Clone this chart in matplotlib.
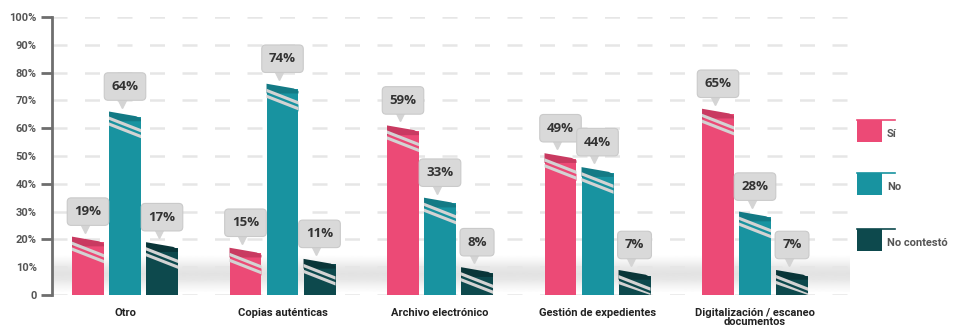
import numpy as np
import matplotlib
matplotlib.use("Agg")
import matplotlib.pyplot as plt
from matplotlib.patches import Polygon, Rectangle
from matplotlib.lines import Line2D
import matplotlib.transforms as mtransforms

plt.rcParams['font.family'] = ['Roboto', 'DejaVu Sans']

# Data
categories = ['Otro', 'Copias auténticas', 'Archivo electrónico',
              'Gestión de expedientes', 'Digitalización / escaneo\ndocumentos']
series = ['Sí', 'No', 'No contestó']
si = [19, 15, 59, 49, 65]
no = [64, 74, 33, 44, 28]
no_contesto = [17, 11, 8, 7, 7]
y_ticks = [0, 10, 20, 30, 40, 50, 60, 70, 80, 90, 100]

colors = ['#EC4A76', '#1893A0', '#0D494D']
caps = ['#C93A61', '#137A85', '#093538']
values = [si, no, no_contesto]

W, H = 954, 334
fig = plt.figure(figsize=(W / 100, H / 100), dpi=100)
ax = fig.add_axes([52 / W, (H - 295) / H, (850 - 52) / W, (295 - 17) / H])

x = np.arange(len(categories))
bw = 0.203
step = 0.235

# floor shading
prof = np.array([0.0, 0.35, 0.8, 1.0, 0.85, 0.4, 0.05])
floor = np.interp(np.linspace(0, 1, 80), np.linspace(0, 1, len(prof)), prof)
rgba = np.zeros((80, 1, 4))
rgba[..., :3] = 0.80
rgba[:, 0, 3] = floor * 0.55
ax.imshow(rgba, extent=[-0.47, 4.61, 1, 14], aspect='auto', zorder=0,
          interpolation='bicubic', origin='upper')

lbl_off = mtransforms.offset_copy(ax.transData, fig=fig, y=25, units='dots')
ptr_off = mtransforms.offset_copy(ax.transData, fig=fig, y=9, units='dots')

for i, (vals, c, cc) in enumerate(zip(values, colors, caps)):
    bars = ax.bar(x + (i - 1) * step, vals, width=bw, color=c, zorder=3)
    for b, v in zip(bars, vals):
        x0, w = b.get_x(), b.get_width()
        top = v + 2
        # slanted cap
        ax.add_patch(Polygon([(x0, v - 1.5), (x0, top), (x0 + w * 0.85, top - 1.7),
                              (x0 + w, top - 2.6), (x0 + w, v - 1.5)],
                             closed=True, fc=cc, ec='none', zorder=4))
        ax.add_patch(Polygon([(x0, v - 1.0), (x0 + w, v - 5.5),
                              (x0 + w, max(v - 8.0, 0)), (x0, v - 1.0)],
                             closed=True, fc=c, ec='none', zorder=4))
        for s_top in (top - 1.8, top - 3.9):
            ax.add_patch(Polygon([(x0, s_top), (x0 + w, s_top - 4.5),
                                  (x0 + w, max(s_top - 5.7, 0)), (x0, s_top - 1.2)],
                                 closed=True, fc='#D3D3D3', ec='none', zorder=5))
        cx = x0 + w / 2
        ax.plot(cx - 0.02, top, marker='v', ms=7, color='#D4D4D4',
                transform=ptr_off, zorder=6, clip_on=False)
        ax.text(cx, top, f'{v}%', transform=lbl_off, ha='center', va='center',
                fontsize=9.5, fontweight='bold', color='#333333', zorder=7,
                family=['Open Sans', 'DejaVu Sans'],
                bbox=dict(boxstyle='round,pad=0.55,rounding_size=0.3',
                          fc='#D9D9D9', ec='#CACACA', lw=0.8))

ax.set_xlim(-0.4635, 4.603)
ax.set_ylim(0, 100)

ax.set_yticks([t for t in y_ticks if t % 20 == 0])
ax.set_yticks([t for t in y_ticks if t % 20 != 0], minor=True)
fmt = lambda t: '0' if t == 0 else f'{t}%'
ax.set_yticklabels([fmt(t) for t in y_ticks if t % 20 == 0])
ax.set_yticklabels([fmt(t) for t in y_ticks if t % 20 != 0], minor=True)
ax.tick_params(axis='y', which='major', length=8, width=2, color='#6E6E6E',
               labelcolor='#555555', labelsize=8, pad=3)
ax.tick_params(axis='y', which='minor', length=0, labelcolor='#555555',
               labelsize=8, pad=11)
for lab in ax.get_yticklabels(which='both'):
    lab.set_fontweight('bold')

ax.set_xticks(x)
ax.set_xticklabels(categories, color='#222222', fontsize=8, fontweight='bold',
                   linespacing=0.9)
ax.tick_params(axis='x', length=0, pad=9)

ax.yaxis.grid(True, which='both', color='#E6E6E6', lw=1.8, linestyle=(0, (6, 7)))
ax.set_axisbelow(True)
for s in ['top', 'right', 'bottom']:
    ax.spines[s].set_visible(False)
ax.spines['left'].set_color('#6E6E6E')
ax.spines['left'].set_linewidth(2)

# legend
leg_y = [131, 184, 240]
for name, c, yc in zip(series, colors, leg_y):
    fig.add_artist(Rectangle((857 / W, 1 - (yc + 11) / H), 25 / W, 22 / H,
                             transform=fig.transFigure, fc=c, ec='none'))
    fig.add_artist(Line2D([857 / W, 895 / W], [1 - (yc - 11) / H] * 2,
                          transform=fig.transFigure, color=c, lw=1.2))
    fig.text(887 / W, 1 - (yc + 3) / H, name, ha='left', va='center',
             fontsize=8, fontweight='bold', color='#555555')

fig.savefig('out.png', dpi=100)
